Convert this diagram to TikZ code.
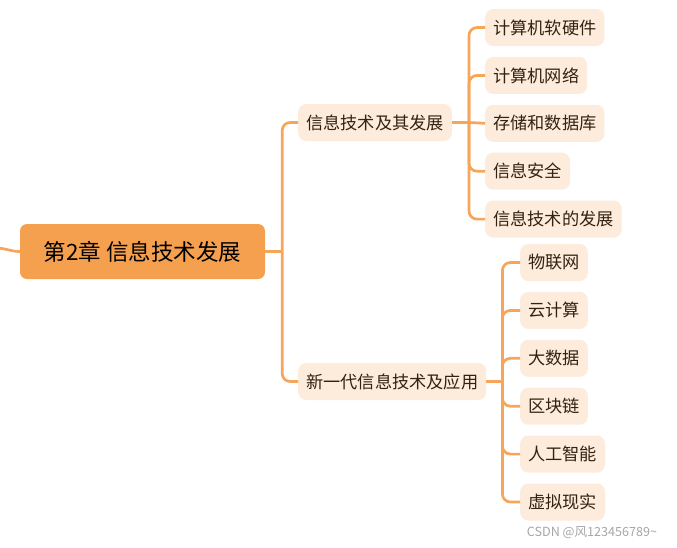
\documentclass[tikz,border=0pt]{standalone}
\usepackage{fontspec}
\setmainfont{Noto Sans CJK SC}
\usetikzlibrary{positioning}

\definecolor{rootfill}{HTML}{F5A04F}
\definecolor{leaffill}{HTML}{FDEBDC}
\definecolor{linkcol}{HTML}{F7A559}
\definecolor{leaftext}{HTML}{33220F}

\tikzset{
  rootbox/.style={fill=rootfill, rounded corners=7pt, minimum width=245pt, minimum height=55pt,
    font=\fontsize{22.5}{26}\selectfont, text=black},
  topicbox/.style={fill=leaffill, rounded corners=8pt, minimum height=37pt, inner xsep=8pt,
    font=\fontsize{17.2}{20}\selectfont, text=leaftext, anchor=west},
  leafbox/.style={topicbox},
  branch/.style={draw=linkcol, line width=2.7pt, rounded corners=8pt},
}

\begin{document}
\begin{tikzpicture}[x=1pt, y=-1pt, node distance=10.5pt]
    \useasboundingbox (0,0) rectangle (677,547);
    \node (R) [rootbox] at (142.5,251.5) {第2章 信息技术发展};
    \node (T1) [topicbox] at (298,122.5) {信息技术及其发展};
    \node (T2) [topicbox] at (298,381.5) {新一代信息技术及应用};
    % 信息技术及其发展
    \node (A1) [leafbox] at (485,27.5) {计算机软硬件};
    \node (A2) [leafbox, below=of A1.south west, anchor=north west] {计算机网络};
    \node (A3) [leafbox, below=of A2.south west, anchor=north west] {存储和数据库};
    \node (A4) [leafbox, below=of A3.south west, anchor=north west] {信息安全};
    \node (A5) [leafbox, below=of A4.south west, anchor=north west] {信息技术的发展};
    % 新一代信息技术及应用
    \node (B1) [leafbox] at (520,262.5) {物联网};
    \node (B2) [leafbox, below=of B1.south west, anchor=north west] {云计算};
    \node (B3) [leafbox, below=of B2.south west, anchor=north west] {大数据};
    \node (B4) [leafbox, below=of B3.south west, anchor=north west] {区块链};
    \node (B5) [leafbox, below=of B4.south west, anchor=north west] {人工智能};
    \node (B6) [leafbox, below=of B5.south west, anchor=north west] {虚拟现实};
    \node (WM) [font=\fontsize{12.6}{14}\selectfont, text=black!35] at (592,533) {CSDN @风123456789\textasciitilde};

    \coordinate (P) at (-4,248);
    \coordinate (J0) at ([xshift=17pt]R.east);
    \coordinate (J1) at ([xshift=17pt]T1.east);
    \coordinate (J2) at ([xshift=16pt]T2.east);
    \draw[branch] (P) to[out=0, in=180] (R.west);
    \draw[branch] (R.east) -- (J0);
    \draw[branch] (J0) |- (T1.west);
    \draw[branch] (J0) |- (T2.west);
    \draw[branch] (T1.east) -- (J1);
    \draw[branch] (J1) |- (A1.west);
    \draw[branch] (J1) |- (A2.west);
    \draw[branch] (J1) -- (A3.west);
    \draw[branch] (J1) |- (A4.west);
    \draw[branch] (J1) |- (A5.west);
    \draw[branch] (T2.east) -- (J2);
    \draw[branch] (J2) |- (B1.west);
    \draw[branch] (J2) |- (B2.west);
    \draw[branch] (J2) |- (B3.west);
    \draw[branch] (J2) |- (B4.west);
    \draw[branch] (J2) |- (B5.west);
    \draw[branch] (J2) |- (B6.west);
\end{tikzpicture}
\end{document}
